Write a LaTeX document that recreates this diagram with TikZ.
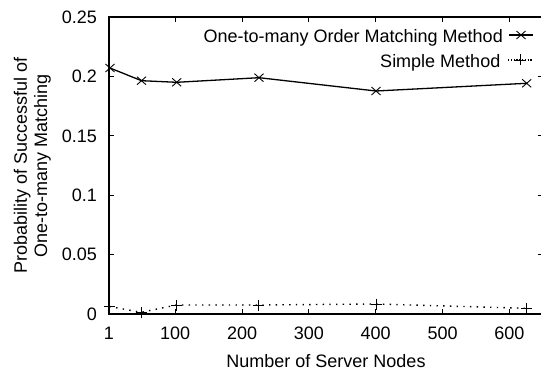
\documentclass[tikz,border=0pt]{standalone}
\usepackage{fontspec}
\setmainfont{Liberation Sans}
\begin{document}
\begin{tikzpicture}[x=1pt,y=-1pt,
  axisline/.style={line width=1.3pt,black},
  tickmark/.style={line width=0.8pt,black},
  seriesA/.style={line width=1.3pt,black},
  seriesB/.style={line width=1.4pt,black,dash pattern=on 1.4pt off 5.3pt},
  lbl/.style={font=\fontsize{18}{20}\selectfont,inner sep=0pt,text=black},
  xmark/.pic={\draw[line width=0.9pt] (-4.5,-4) -- (4.5,4) (-4.5,4) -- (4.5,-4);},
  pmark/.pic={\draw[line width=0.9pt] (-5.5,0) -- (5.5,0) (0,-5.5) -- (0,5.5);}]
\useasboundingbox (0,0) rectangle (541,374);
\clip (0,0) rectangle (541,374);
% frame corners
\coordinate (bl) at (109,314);
\coordinate (br) at (543,314);
\coordinate (tr) at (543,17);
\coordinate (tl) at (109,17);
% y ticks and labels
\foreach \v/\t [count=\i] in {0/0,0.05/0.05,0.1/0.1,0.15/0.15,0.2/0.2,0.25/0.25}{
  \pgfmathsetmacro{\py}{314-\v*1188}
  \draw[tickmark] (109,\py) -- (114,\py);
  \draw[tickmark] (543,\py) -- (538,\py);
  \node[lbl,anchor=east] (yt\i) at (97,\py) {\t};
}
% x ticks and labels
\foreach \v [count=\i] in {1,100,200,300,400,500,600}{
  \pgfmathsetmacro{\px}{109+(\v-1)*0.6685}
  \draw[tickmark] (\px,314) -- (\px,309);
  \draw[tickmark] (\px,17) -- (\px,22);
  \node[lbl,anchor=base] (xt\i) at (\px,339.5) {\v};
}
\draw[axisline] (bl) -- (br) -- (tr) -- (tl) -- cycle;
% axis labels
\node[lbl,anchor=base] (xlab) at (326,367) {Number of Server Nodes};
\node[lbl,anchor=base,rotate=90] (ylab1) at (27,165.5) {Probability of Successful of};
\node[lbl,anchor=base,rotate=90] (ylab2) at (47,165.5) {One-to-many Matching};
% series A
\coordinate (a1) at (110,68);
\coordinate (a2) at (141.5,80.7);
\coordinate (a3) at (176.7,82.3);
\coordinate (a4) at (259,77.7);
\coordinate (a5) at (376,91);
\coordinate (a6) at (526.7,83.3);
\draw[seriesA] (a1) -- (a2) -- (a3) -- (a4) -- (a5) -- (a6);
\foreach \c in {a1,a2,a3,a4,a5,a6}{ \pic at (\c) {xmark}; }
% series B
\coordinate (b1) at (109.5,306.5);
\coordinate (b2) at (141,312.3);
\coordinate (b3) at (176.5,305);
\coordinate (b4) at (258.3,305);
\coordinate (b5) at (376,304);
\coordinate (b6) at (526.7,308.3);
\draw[seriesB] (b1) -- (b2) -- (b3) -- (b4) -- (b5) -- (b6);
\foreach \c in {b1,b2,b3,b4,b5,b6}{ \pic at (\c) {pmark}; }
% legend
\node[lbl,anchor=base east] (leg1) at (503,42.5) {One-to-many Order Matching Method};
\node[lbl,anchor=base east] (leg2) at (500.5,67.5) {Simple Method};
\coordinate (l1a) at (509,35);
\coordinate (l1b) at (533,35);
\coordinate (l1m) at (521,35);
\coordinate (l2a) at (508,60);
\coordinate (l2b) at (533,60);
\coordinate (l2m) at (520.5,60);
\draw[seriesA] (l1a) -- (l1b);
\pic at (l1m) {xmark};
\draw[line width=1.4pt,dash pattern=on 1.2pt off 1.6pt] (l2a) -- (l2b);
\pic at (l2m) {pmark};
\end{tikzpicture}
\end{document}
